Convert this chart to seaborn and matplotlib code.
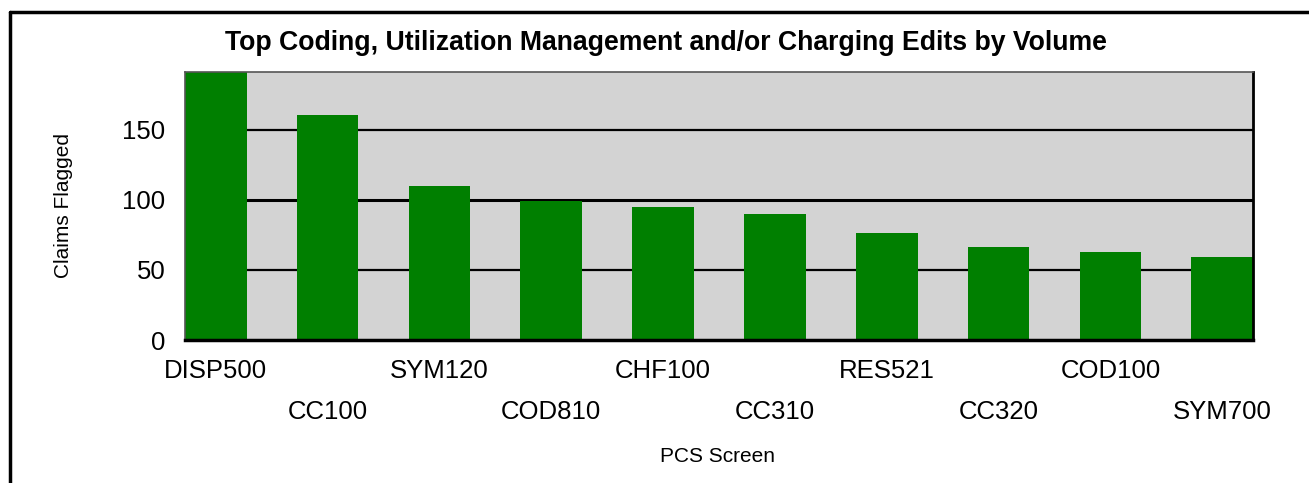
import numpy as np
import pandas as pd
import matplotlib
matplotlib.use("Agg")
import matplotlib.pyplot as plt
import seaborn as sns
from matplotlib.lines import Line2D

screens = ["DISP500", "CC100", "SYM120", "COD810", "CHF100",
           "CC310", "RES521", "CC320", "COD100", "SYM700"]
claims = [191, 160, 110, 99, 95, 90, 76, 66, 63, 59]

df = pd.DataFrame({"screen": screens, "claims": claims})

sns.set_style("white")
plt.rcParams["font.family"] = ["Liberation Sans", "DejaVu Sans"]
plt.rcParams["text.color"] = "black"
plt.rcParams["axes.labelcolor"] = "black"
plt.rcParams["xtick.color"] = "black"
plt.rcParams["ytick.color"] = "black"

W, H = 1309, 483
fig = plt.figure(figsize=(W / 100, H / 100), dpi=100)
ax = fig.add_axes([185 / W, 1 - 340 / H, 1068 / W, 268 / H])
ax.set_facecolor("#d3d3d3")

sns.barplot(data=df, x="screen", y="claims", color="#007f00", saturation=1,
            width=0.55, linewidth=0, ax=ax, zorder=3)

ax.set_xlim(-0.275, len(screens) - 1 + 0.275)
ax.set_ylim(0, 191)
ax.set_yticks([0, 50, 100, 150])
for v in [50, 150]:
    ax.axhline(v, color="black", lw=1.6, zorder=1)
ax.axhline(100, color="black", lw=2.2, zorder=1)

# staggered category labels: even on major ticks, odd on minor ticks
pos = np.arange(len(screens))
ax.set_xticks(pos[::2])
ax.set_xticklabels(screens[::2])
ax.set_xticks(pos[1::2], minor=True)
ax.set_xticklabels(screens[1::2], minor=True)
ax.tick_params(axis="x", which="both", length=3, width=1.5, direction="out",
               labelsize=18.5, colors="black")
ax.tick_params(axis="x", which="major", pad=11)
ax.tick_params(axis="x", which="minor", pad=40)
ax.tick_params(axis="y", length=8, width=1.5, pad=6, labelsize=18.5, colors="black")

for side in ["left", "top"]:
    ax.spines[side].set_color("#555555")
    ax.spines[side].set_linewidth(1.2)
ax.spines["right"].set_color("black")
ax.spines["right"].set_linewidth(2)
ax.spines["bottom"].set_color("black")
ax.spines["bottom"].set_linewidth(2.5)
for s in ax.spines.values():
    s.set_zorder(4)

ax.set_xlabel("PCS Screen", fontsize=15)
ax.set_ylabel("Claims Flagged", fontsize=15)
ax.xaxis.set_label_coords((718 - 185) / 1068, -(447 - 340) / 268)
ax.yaxis.set_label_coords(-(185 - 73) / 1068, (340 - 205) / 268)
fig.text(666 / W, 1 - 43 / H, "Top Coding, Utilization Management and/or Charging Edits by Volume",
         ha="center", va="center", fontsize=19.2, fontweight="bold")

# outer frame (top and left edges)
fig.add_artist(Line2D([10 / W, 1.01], [1 - 12 / H, 1 - 12 / H], color="black", lw=2.5,
                      transform=fig.transFigure))
fig.add_artist(Line2D([10 / W, 10 / W], [-0.01, 1 - 12 / H], color="black", lw=2.5,
                      transform=fig.transFigure))

fig.savefig("out.png", dpi=100)
